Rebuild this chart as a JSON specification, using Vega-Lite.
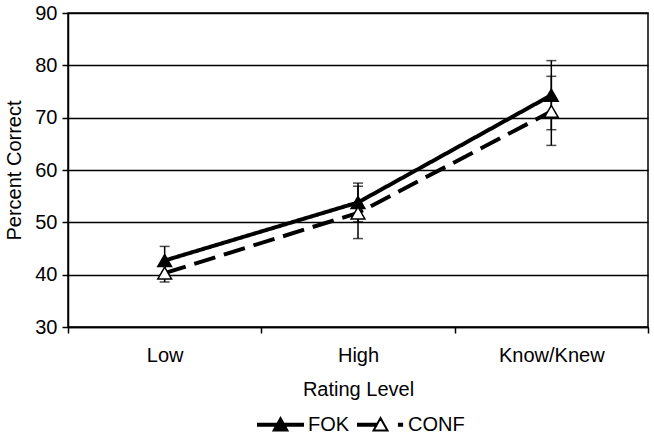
{
  "$schema": "https://vega.github.io/schema/vega-lite/v6.json",
  "width": 580,
  "height": 314,
  "autosize": {"type": "none"},
  "padding": {"left": 68, "top": 13, "right": 6, "bottom": 112},
  "background": "white",
  "config": {
    "font": "Liberation Sans",
    "view": {"stroke": "black", "strokeWidth": 1.5},
    "axis": {"labelFont": "Liberation Sans", "titleFont": "Liberation Sans", "labelFontSize": 20, "titleFontSize": 20, "labelColor": "black", "titleColor": "black", "titleFontWeight": "normal", "domainColor": "black", "domainWidth": 1.5, "tickColor": "black", "tickWidth": 1.5, "tickSize": 6}
  },
  "data": {
    "values": [
      {"level": "Low", "series": "FOK", "pct": 42.7, "lo": 40.0, "hi": 45.4},
      {"level": "High", "series": "FOK", "pct": 53.8, "lo": 50.1, "hi": 57.5},
      {"level": "Know/Knew", "series": "FOK", "pct": 74.3, "lo": 67.7, "hi": 80.9},
      {"level": "Low", "series": "CONF", "pct": 40.3, "lo": 38.6, "hi": 42.0},
      {"level": "High", "series": "CONF", "pct": 51.8, "lo": 46.9, "hi": 56.9},
      {"level": "Know/Knew", "series": "CONF", "pct": 71.2, "lo": 64.7, "hi": 77.9}
    ]
  },
  "encoding": {
    "x": {
      "field": "level", "type": "nominal", "sort": ["Low", "High", "Know/Knew"],
      "scale": {"type": "band", "paddingInner": 0, "paddingOuter": 0},
      "axis": {"title": "Rating Level", "labelAngle": 0, "tickBand": "extent", "labelPadding": 12, "titlePadding": 14, "grid": false}
    }
  },
  "layer": [
    {
      "mark": {"type": "rule", "color": "black", "strokeWidth": 1.5},
      "encoding": {
        "y": {"field": "lo", "type": "quantitative", "scale": {"domain": [30, 90], "nice": false, "zero": false},
          "axis": {"title": "Percent Correct", "values": [30, 40, 50, 60, 70, 80, 90], "grid": true, "gridColor": "black", "gridWidth": 1.5, "gridOpacity": 1, "labelPadding": 5, "titlePadding": 10}},
        "y2": {"field": "hi"}
      }
    },
    {
      "mark": {"type": "tick", "color": "black", "thickness": 1.5, "size": 10, "orient": "horizontal"},
      "encoding": {"y": {"field": "lo", "type": "quantitative"}}
    },
    {
      "mark": {"type": "tick", "color": "black", "thickness": 1.5, "size": 10, "orient": "horizontal"},
      "encoding": {"y": {"field": "hi", "type": "quantitative"}}
    },
    {
      "mark": {"type": "line", "color": "black", "strokeWidth": 4},
      "encoding": {
        "y": {"field": "pct", "type": "quantitative"},
        "detail": {"field": "series"},
        "strokeDash": {"condition": {"test": "datum.series === 'FOK'", "value": [1, 0]}, "value": [22, 9]}
      }
    },
    {
      "mark": {"type": "point", "shape": "triangle-up", "filled": false, "stroke": "black", "strokeWidth": 1.5, "size": 190, "opacity": 1},
      "encoding": {
        "y": {"field": "pct", "type": "quantitative"},
        "fill": {"condition": {"test": "datum.series === 'FOK'", "value": "black"}, "value": "white"}
      }
    },
    {
      "transform": [{"filter": "datum.series === 'none'"}],
      "mark": {"type": "point", "filled": false, "stroke": "black", "strokeWidth": 2, "opacity": 1},
      "encoding": {
        "y": {"field": "pct", "type": "quantitative"},
        "fill": {"field": "series", "type": "nominal", "scale": {"domain": ["FOK", "CONF"], "range": ["black", "white"]}},
        "stroke": {"field": "series", "type": "nominal", "scale": {"domain": ["FOK", "CONF"], "range": ["black", "black"]}},
        "shape": {"field": "series", "type": "nominal",
          "scale": {"domain": ["FOK", "CONF"], "range": ["M-1,-0.044H1V0.044H-1Z M0,-0.3L0.31,0.26H-0.31Z", "M-1,-0.044H-0.19V0.044H-1Z M0.82,-0.044H0.96V0.044H0.82Z M0,-0.3L0.31,0.26H-0.31Z"]},
          "legend": {
            "title": null, "orient": "none", "direction": "horizontal", "legendX": 189, "legendY": 388,
            "padding": 0, "labelFontSize": 20, "labelFont": "Liberation Sans", "labelColor": "black", "labelOffset": 4,
            "columnPadding": 4, "symbolSize": 2025, "symbolStrokeColor": "black", "symbolStrokeWidth": 2, "symbolOpacity": 1
          }
        }
      }
    }
  ]
}
